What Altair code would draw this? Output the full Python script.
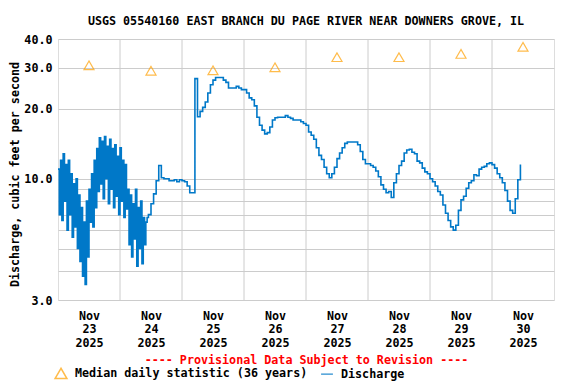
import json
import altair as alt
import pandas as pd

# ---------------- data ----------------
title_text = "USGS 05540160 EAST BRANCH DU PAGE RIVER NEAR DOWNERS GROVE, IL"
y_title = "Discharge, cubic feet per second"
note_text = "---- Provisional Data Subject to Revision ----"
median_label = "Median daily statistic (36 years)"
discharge_label = "Discharge"

# noisy part: 30-minute readings from Nov 23 00:00 UTC
noisy_start = "2025-11-23T00:00:00Z"
noisy_step_minutes = 30
noisy_q = [
    11.0, 7.0, 12.0, 6.6, 12.8, 8.0, 11.5, 6.0, 12.0, 7.0,
    10.5, 5.6, 9.5, 6.2, 10.0, 5.0, 8.5, 4.4, 7.5, 3.8,
    6.5, 3.5, 8.0, 4.6, 9.0, 6.5, 10.5, 6.2, 12.0, 7.5,
    13.5, 8.8, 15.0, 9.5, 14.5, 8.2, 15.2, 10.0, 13.8, 7.8,
    14.8, 9.0, 13.5, 7.5, 14.0, 8.4, 12.5, 7.0, 13.6, 8.0,
    12.0, 6.8, 11.5, 7.4, 9.0, 5.2, 8.5, 4.6, 7.8, 5.5,
    9.0, 4.2, 7.5, 5.0, 8.0, 4.3, 6.8, 5.2, 6.5, 6.8,
]

# smoother part: hourly readings from Nov 24 11:00 UTC
hourly_start = "2025-11-24T11:00:00Z"
hourly_step_minutes = 60
hourly_q = [
    7.0, 7.8, 8.6, 9.8, 11.4, 10.1, 10.0, 10.0, 9.8, 9.8,
    9.9, 9.7, 9.9, 9.8, 9.7, 9.3, 8.7, 8.7, 27.0, 18.5,
    19.5, 20.3, 21.4, 23.4, 25.4, 26.6, 27.3, 27.3, 27.3, 26.6,
    26.0, 24.6, 24.6, 24.6, 25.0, 24.6, 24.2, 24.2, 23.4, 22.3,
    21.9, 20.6, 18.4, 17.0, 16.2, 15.6, 15.8, 16.7, 17.9, 18.3,
    18.4, 18.4, 18.4, 18.7, 18.4, 18.2, 17.9, 17.9, 17.9, 17.6,
    17.3, 17.0, 15.9, 15.4, 14.8, 13.6, 12.6, 12.1, 11.2, 10.5,
    10.1, 10.5, 11.2, 12.2, 12.9, 13.6, 14.2, 14.4, 14.4, 14.4,
    14.4, 14.0, 13.1, 12.1, 11.6, 11.6, 11.4, 11.2, 10.8, 10.2,
    9.4, 9.0, 8.7, 8.8, 8.3, 9.6, 10.5, 11.4, 11.9, 12.9,
    13.3, 13.4, 13.0, 12.8, 11.9, 11.7, 11.1, 10.7, 10.5, 10.0,
    9.7, 9.3, 8.8, 8.5, 7.7, 7.1, 6.6, 6.2, 6.0, 6.3,
    7.3, 8.1, 8.4, 9.1, 9.6, 9.8, 10.4, 10.3, 11.0, 11.2,
    11.3, 11.6, 11.7, 11.5, 11.1, 10.5, 10.1, 9.6, 8.9, 8.0,
    7.3, 7.1, 8.2, 9.9, 11.5,
]

median_days = ["2025-11-23T12:00:00Z", "2025-11-24T12:00:00Z", "2025-11-25T12:00:00Z",
               "2025-11-26T12:00:00Z", "2025-11-27T12:00:00Z", "2025-11-28T12:00:00Z",
               "2025-11-29T12:00:00Z", "2025-11-30T12:00:00Z"]
median_q = [30.8, 29.2, 29.3, 30.2, 33.4, 33.4, 34.5, 37.0]

grid_days = ["2025-11-24T00:00:00Z", "2025-11-25T00:00:00Z", "2025-11-26T00:00:00Z",
             "2025-11-27T00:00:00Z", "2025-11-28T00:00:00Z", "2025-11-29T00:00:00Z",
             "2025-11-30T00:00:00Z"]
x_domain = ["2025-11-23T00:00:00Z", "2025-12-01T00:00:00Z"]

y_grid_values = [3, 4, 5, 6, 7, 8, 9, 10, 20, 30, 40]
y_label_values = [3, 10, 20, 30, 40]
y_domain = [3, 40]

# ---------------- helpers ----------------
def ms(s):
    return int(pd.Timestamp(s).value // 10**6)

def series_times(start, step_minutes, n):
    t0 = ms(start)
    return [t0 + i * step_minutes * 60000 for i in range(n)]

t_all = series_times(noisy_start, noisy_step_minutes, len(noisy_q)) + \
        series_times(hourly_start, hourly_step_minutes, len(hourly_q))
q_all = noisy_q + hourly_q
df_q = pd.DataFrame({"t": t_all, "q": q_all, "series": discharge_label})
df_med = pd.DataFrame({"t": [ms(d) for d in median_days], "q": median_q, "series": median_label})
df_grid = pd.DataFrame({"t": [ms(d) for d in grid_days]})

FONT = "DejaVu Sans Mono"
FS = 11.7
BLUE = "#0078C8"
ORANGE = "#FFA000"
GRID = "#CCCCCC"

x_scale = alt.Scale(type="utc", domain=[ms(d) for d in x_domain], nice=False)
y_scale = alt.Scale(type="log", domain=y_domain, nice=False)

x_axis = alt.Axis(
    values=[ms(d) for d in median_days],
    labelExpr="[utcFormat(datum.value, '%b'), utcFormat(datum.value, '%d'), utcFormat(datum.value, '%Y')]",
    grid=False, ticks=False, domain=False,
    labelFont=FONT, labelFontSize=FS, labelFontWeight="bold", labelColor="black",
    labelBaseline="top", labelPadding=10, labelLineHeight=13.5, labelAlign="center",
    labelOverlap=False, labelFlush=False,
    title=note_text, titleFont=FONT, titleFontSize=FS, titleFontWeight="bold",
    titleColor="#FF0000", titleBaseline="alphabetic", titleY=63,
)
y_axis = alt.Axis(
    values=y_grid_values,
    labelExpr="indexof(" + json.dumps(y_label_values) + ", datum.value) >= 0 ? format(datum.value, '.1f') : ''",
    grid=True, gridColor=GRID, gridWidth=1, ticks=False, domain=False,
    labelFont=FONT, labelFontSize=FS, labelFontWeight="bold", labelColor="black",
    labelPadding=6, labelOverlap=False, labelFlush=False,
    title=y_title, titleFont=FONT, titleFontSize=FS, titleFontWeight="bold", titleColor="black",
    titleAngle=270, titleBaseline="middle", titleAlign="center", titleX=-44, titleY=135,
)

grid_rules = alt.Chart(df_grid).mark_rule(color=GRID, strokeWidth=1).encode(
    x=alt.X("t:T", scale=x_scale, axis=x_axis)
)

line = alt.Chart(df_q).mark_line(color=BLUE, strokeWidth=1.6, interpolate="step-after").encode(
    x=alt.X("t:T", scale=x_scale, axis=x_axis),
    y=alt.Y("q:Q", scale=y_scale, axis=y_axis),
)

legend = alt.Legend(
    title=None, orient="none", legendX=-4, legendY=327, direction="horizontal",
    labelFont=FONT, labelFontSize=FS, labelFontWeight="bold", labelColor="black",
    labelLimit=400, symbolSize=140, symbolStrokeWidth=1.5, labelOffset=7,
    columnPadding=10, padding=0,
)
legend_domain = [median_label, discharge_label]
points = alt.Chart(df_med).mark_point(filled=False, size=100, strokeWidth=1.2).encode(
    x=alt.X("t:T", scale=x_scale, axis=x_axis),
    y=alt.Y("q:Q", scale=y_scale, axis=y_axis),
    color=alt.Color("series:N", scale=alt.Scale(domain=legend_domain, range=[ORANGE, BLUE]), legend=legend),
    shape=alt.Shape("series:N", scale=alt.Scale(domain=legend_domain, range=["triangle-up", "stroke"]), legend=legend),
)

chart = alt.layer(grid_rules, line, points).properties(
    width=496, height=261,
    title=alt.TitleParams(title_text, font=FONT, fontSize=FS, fontWeight="bold", color="black",
                          anchor="middle", offset=-3, baseline="alphabetic"),
    autosize=alt.AutoSizeParams(type="none"),
    padding={"left": 50, "top": 31, "right": 14, "bottom": 84},
).configure_view(stroke="black", strokeWidth=1.5).configure(background="white")

chart.save("out.html", embed_options={"renderer": "svg", "actions": False})
